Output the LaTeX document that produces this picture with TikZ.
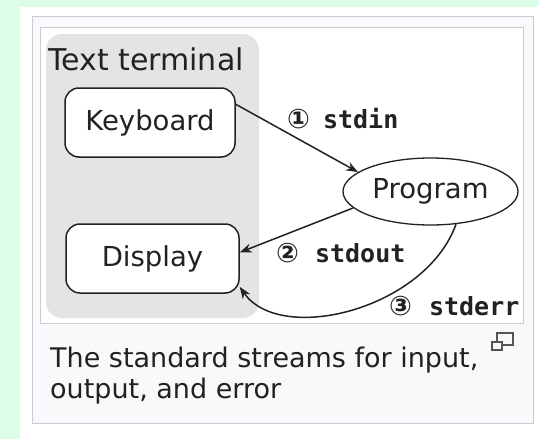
\documentclass[tikz,border=0pt]{standalone}
\usepackage{fontspec}
\setmainfont{DejaVu Sans}
\setmonofont{DejaVu Sans Mono}
\newfontfamily\circfont{DejaVu Sans}
\usetikzlibrary{shapes.geometric,arrows.meta}
\definecolor{pagegreen}{RGB}{220,254,232}
\definecolor{capbg}{HTML}{F8F9FA}
\definecolor{capborder}{HTML}{C8CCD1}
\definecolor{termgray}{HTML}{E4E4E4}
\definecolor{ink}{HTML}{222222}
\definecolor{captext}{HTML}{202122}
\definecolor{icongray}{HTML}{555555}
\tikzset{
  devbox/.style={draw=ink, fill=white, line width=1.5pt, rounded corners=14pt,
    minimum height=69pt, inner sep=0pt, font=\fontsize{27.5}{30}\selectfont, text=ink},
  progell/.style={ellipse, draw=ink, fill=white, line width=1.3pt, inner sep=0pt,
    minimum width=175pt, minimum height=67pt, font=\fontsize{27.5}{30}\selectfont, text=ink},
  flow/.style={draw=ink, line width=1.5pt, -{Stealth[length=12pt,width=9pt]}},
  streamlbl/.style={anchor=base west, inner sep=0pt, text=ink, font=\fontsize{25}{27}\selectfont\ttfamily\bfseries},
  captxt/.style={anchor=base west, inner sep=0pt, text=captext, font=\fontsize{27}{31}\selectfont},
}
\newcommand{\circnum}[1]{{\circfont\fontsize{27}{29}\selectfont #1}}
\begin{document}
\begin{tikzpicture}[x=1pt,y=-1pt]
\useasboundingbox (0,0) rectangle (539,439);
% page
\fill[pagegreen] (0,0) rectangle (539,439);
\fill[white] (20,7) rectangle (539,439);
% caption frame
\draw[capborder, fill=capbg, line width=1pt] (32,16.5) rectangle (533,423);
\draw[capborder, fill=white, line width=1pt] (40,27.5) rectangle (523,323);
% text terminal region
\node[fill=termgray, rounded corners=16pt, minimum width=213pt, minimum height=284pt, inner sep=0pt] (term) at (152.5,176) {};
\node[anchor=base west, inner sep=0pt, text=ink, font=\fontsize{30}{32}\selectfont] (termlbl) at (48,70) {Text terminal};
% devices
\node[devbox, minimum width=170pt] (kb) at (150,122.5) {Keyboard};
\node[devbox, minimum width=173pt] (disp) at (152.5,258.5) {Display};
\node[progell] (prog) at (430.5,191.5) {Program};
% streams
\draw[flow] (kb.12) -- (prog.165);
\draw[flow] (prog.192) -- (disp.4);
\draw[flow] (prog.-52) .. controls (425,310) and (280,345) .. (disp.-18);
\node[streamlbl] (l1) at (287,128) {\circnum{①}\hspace{13pt}stdin};
\node[streamlbl] (l2) at (276,262) {\circnum{②}\hspace{16pt}stdout};
\node[streamlbl] (l3) at (389,315) {\circnum{③}\hspace{17pt}stderr};
% caption
\node[captxt] (cap1) at (50,367) {The standard streams for input,};
\node[captxt] (cap2) at (50,398) {output, and error};
% enlarge icon
\draw[icongray, line width=1.5pt] (497,333) rectangle (513,345);
\draw[icongray, fill=capbg, line width=1.5pt] (492,342) rectangle (502,350);
\end{tikzpicture}
\end{document}
